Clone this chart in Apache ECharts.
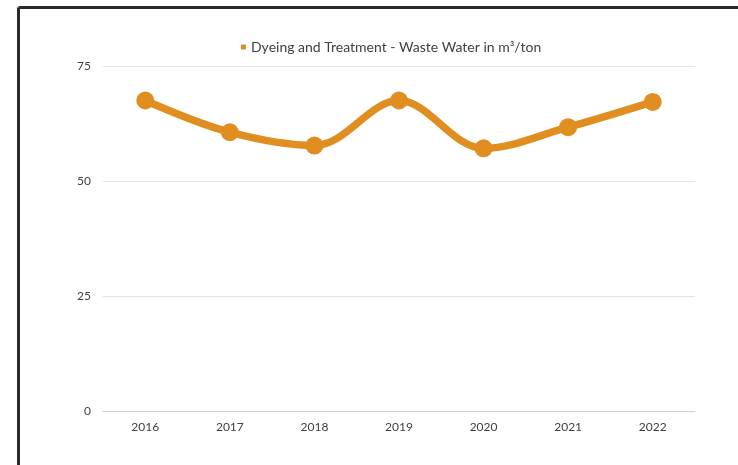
<!DOCTYPE html>
<html>
<head>
<meta charset="utf-8">
<script src="https://cdn.jsdelivr.net/npm/echarts@6/dist/echarts.min.js"></script>
<style>
  html, body { margin: 0; padding: 0; background: #ffffff; }
  #chart { width: 738px; height: 465px; }
</style>
</head>
<body>
<div id="chart"></div>
<script>
// Waste water used in dyeing and treatment, per year
const years = ['2016', '2017', '2018', '2019', '2020', '2021', '2022'];
const wasteWater = [67.5, 60.6, 57.7, 67.5, 57.1, 61.7, 67.2];
const seriesName = 'Dyeing and Treatment - Waste Water in m³/ton';
const yTicks = { min: 0, max: 75, interval: 25 };

const orange = '#E08E1F';
const font = 'Lato, "Open Sans", sans-serif';

const chart = echarts.init(document.getElementById('chart'), null, { renderer: 'canvas' });
chart.setOption({
  backgroundColor: '#ffffff',
  animation: false,
  graphic: [
    { type: 'line', shape: { x1: 18.5, y1: 7.5, x2: 738, y2: 7.5 }, style: { stroke: '#2b2b2b', lineWidth: 3 } },
    { type: 'line', shape: { x1: 18.5, y1: 7.5, x2: 18.5, y2: 465 }, style: { stroke: '#2b2b2b', lineWidth: 3 } }
  ],
  legend: {
    top: 35,
    left: 236,
    itemWidth: 5,
    itemHeight: 5,
    icon: 'rect',
    itemGap: 6,
    textStyle: { color: '#404040', fontSize: 14, fontFamily: font },
    data: [{ name: seriesName, itemStyle: { color: orange } }]
  },
  grid: { left: 103, right: 43, top: 66, bottom: 54 },
  xAxis: {
    type: 'category',
    data: years,
    boundaryGap: true,
    axisLine: { show: true, lineStyle: { color: '#d0d0d0', width: 1 } },
    axisTick: { show: false },
    axisLabel: { color: '#404040', fontSize: 12, fontFamily: font, margin: 10 }
  },
  yAxis: {
    type: 'value',
    min: yTicks.min,
    max: yTicks.max,
    interval: yTicks.interval,
    axisLine: { show: false },
    axisTick: { show: false },
    axisLabel: { color: '#404040', fontSize: 12, fontFamily: font, margin: 12 },
    splitLine: { lineStyle: { color: '#e3e3e3', width: 1 } }
  },
  series: [{
    name: seriesName,
    type: 'line',
    data: wasteWater,
    smooth: 0.35,
    symbol: 'circle',
    symbolSize: 18,
    lineStyle: { color: orange, width: 7.5 },
    itemStyle: { color: orange },
    z: 3
  }]
});
</script>
</body>
</html>
